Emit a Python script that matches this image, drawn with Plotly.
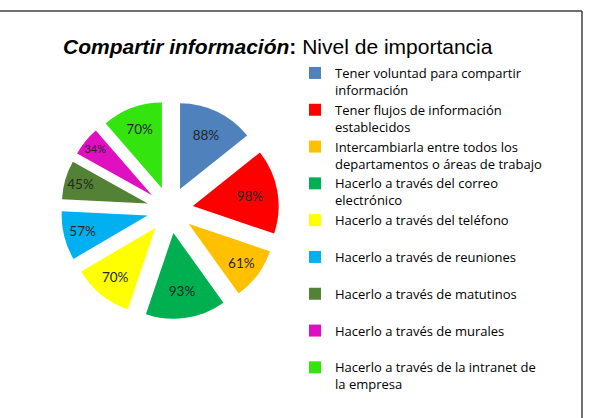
import plotly.graph_objects as go

labels = [
    "Tener voluntad para compartir<br>información",
    "Tener flujos de información<br>establecidos",
    "Intercambiarla entre todos los<br>departamentos o áreas de trabajo",
    "Hacerlo a través del correo<br>electrónico",
    "Hacerlo a través del teléfono<br> ",
    "Hacerlo a través de reuniones<br> ",
    "Hacerlo a través de matutinos<br> ",
    "Hacerlo a través de murales<br> ",
    "Hacerlo a través de la intranet de<br>la empresa",
]
values = [88, 98, 61, 93, 70, 57, 45, 34, 70]
colors = ["#4F81BD", "#FF0000", "#FFC000", "#00B050", "#FFFF00",
          "#00B0F0", "#538135", "#DE10C0", "#33E40F"]

W, H = 603, 418

fig = go.Figure(go.Pie(
    labels=labels,
    values=values,
    sort=False,
    direction="clockwise",
    rotation=0,
    pull=[0.27] * len(values),
    marker=dict(colors=colors, line=dict(width=0)),
    texttemplate="%{value}%",
    textposition="inside",
    insidetextorientation="horizontal",
    textfont=dict(family="Lato", size=13.5, color="#262626"),
    hoverinfo="skip",
    domain=dict(x=[61 / W, 279 / W], y=[(H - 319) / H, (H - 101) / H]),
))

fig.update_layout(
    width=W, height=H,
    margin=dict(l=0, r=0, t=0, b=0),
    paper_bgcolor="white",
    plot_bgcolor="white",
    title=dict(
        text="<b><i>Compartir información</i>:</b> Nivel de importancia",
        font=dict(family="Liberation Sans", size=21, color="#000000"),
        x=63 / W, xanchor="left", xref="paper",
        y=1 - 47 / H, yanchor="middle", yref="paper",
    ),
    legend=dict(
        x=295 / W, xanchor="left",
        y=1 - 58 / H, yanchor="top",
        font=dict(family="Open Sans", size=13, color="#000000"),
        valign="top",
        itemwidth=30,
        bgcolor="rgba(0,0,0,0)",
    ),
    shapes=[
        dict(type="line", xref="paper", yref="paper",
             x0=0, x1=582 / W, y0=1 - 11 / H, y1=1 - 11 / H,
             line=dict(color="#404040", width=1.5)),
        dict(type="line", xref="paper", yref="paper",
             x0=582 / W, x1=582 / W, y0=1 - 11 / H, y1=0,
             line=dict(color="#404040", width=1.5)),
    ],
)

fig.write_html("out.html")
